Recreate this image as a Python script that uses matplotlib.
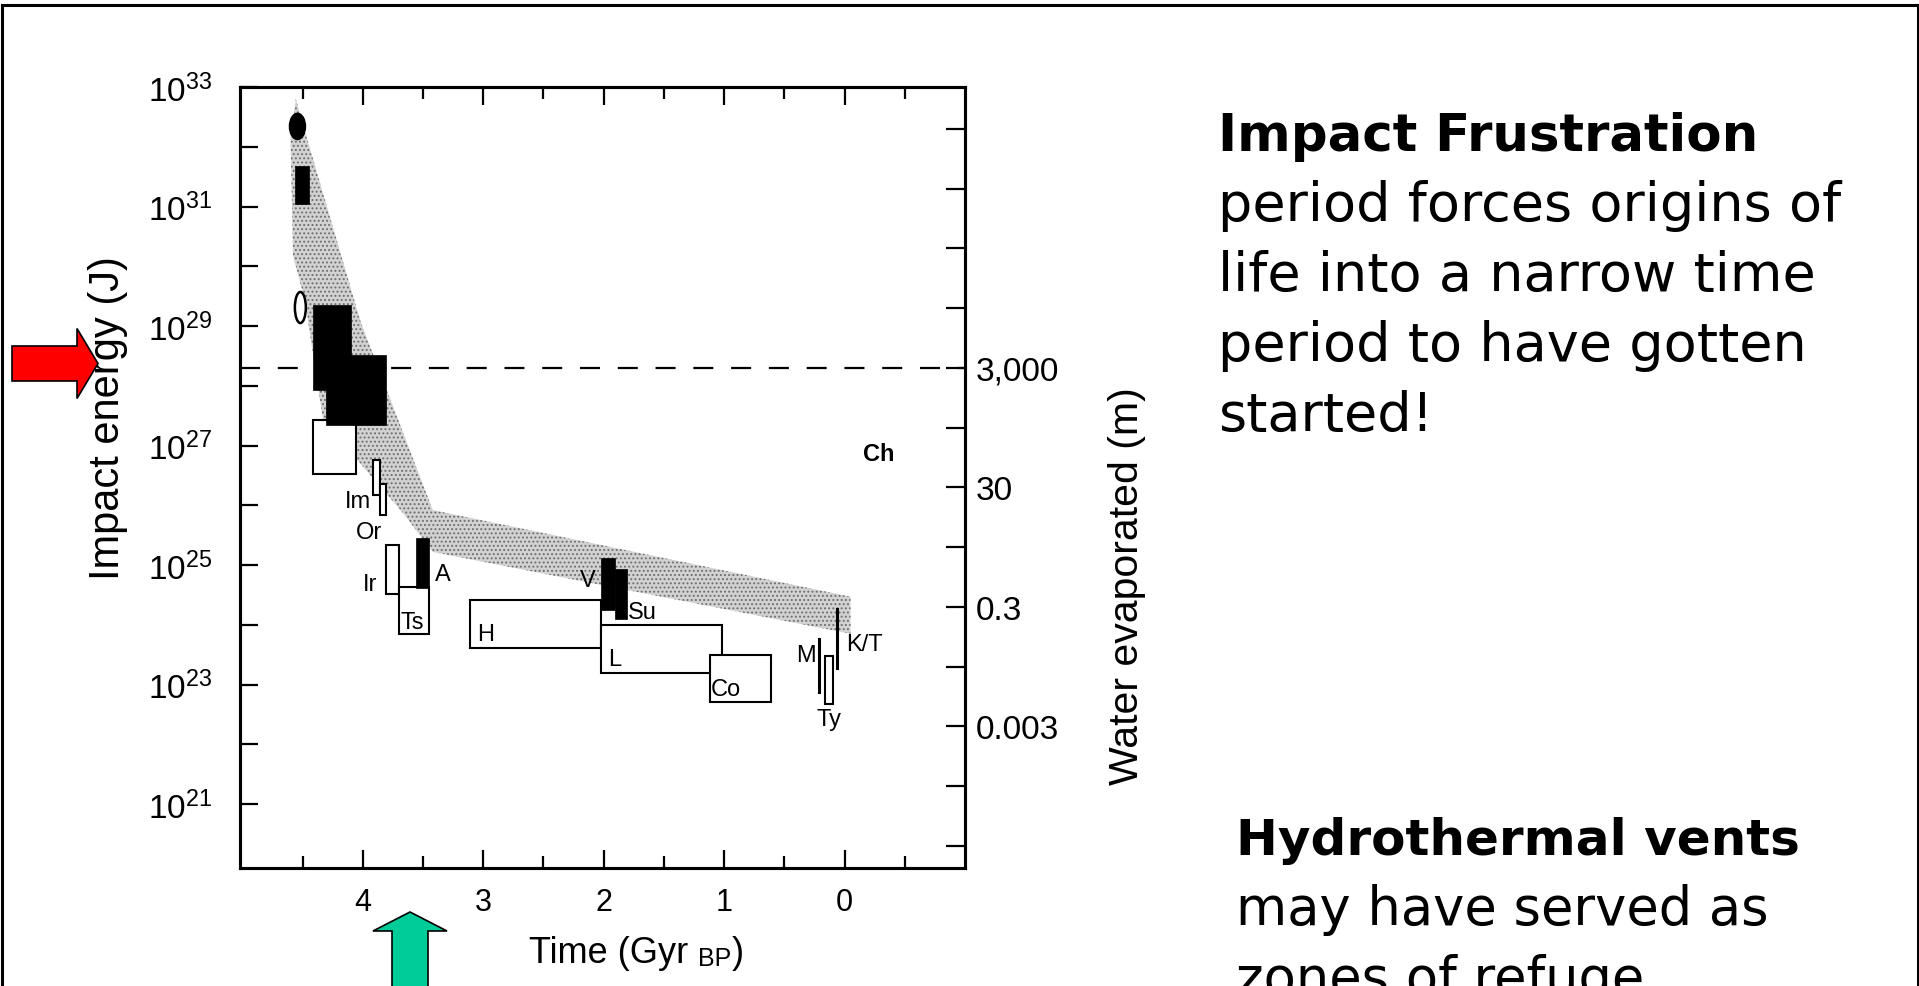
import numpy as np
import matplotlib.pyplot as plt
from matplotlib.patches import Rectangle, Ellipse, FancyArrow
from matplotlib.lines import Line2D
from matplotlib.transforms import IdentityTransform

plt.rcParams['font.family'] = ['Liberation Sans', 'DejaVu Sans']
plt.rcParams['mathtext.fontset'] = 'custom'
plt.rcParams['mathtext.rm'] = 'Liberation Sans'
plt.rcParams['hatch.linewidth'] = 0.9

# time in Gyr before present, energy as log10 of joules
band_t = [4.556, 4.48, 4.02, 3.42, -0.05, -0.05, 3.42, 3.67, 4.33, 4.48, 4.58, 4.60]
band_e = [32.80, 32.25, 29.08, 25.92, 24.47, 23.85, 25.22, 25.88, 27.42, 29.42, 30.18, 32.13]

# black boxes (t_old, t_young), (e_low, e_high)
solid_t = [(4.564, 4.448), (4.415, 4.10), (4.31, 3.81), (3.56, 3.45), (2.02, 1.91), (1.91, 1.81)]
solid_e = [(31.05, 31.67), (27.93, 29.35), (27.35, 28.52), (24.62, 25.45), (24.25, 25.12), (24.10, 24.93)]

# open boxes: big one, Im (two), Ir, Ts, H, L, Co, Ty
open_t = [(4.415, 4.06), (3.917, 3.859), (3.86, 3.81), (3.81, 3.70), (3.70, 3.45),
          (3.11, 2.02), (2.02, 1.02), (1.12, 0.61), (0.16, 0.10)]
open_e = [(26.53, 27.43), (26.17, 26.75), (25.83, 26.35), (24.52, 25.33), (23.85, 24.63),
          (23.62, 24.42), (23.20, 24.00), (22.70, 23.50), (22.68, 23.48)]

# single events drawn as bars: M, K/T
bar_t = [0.216, 0.06]
bar_e = [(22.88, 23.77), (23.27, 24.27)]

# the two oldest estimates drawn as ovals
oval_t = [4.543, 4.519]
oval_e = [32.34, 29.31]
oval_filled = [True, False]

labels = ['Im', 'Or', 'Ir', 'A', 'Ts', 'H', 'V', 'Su', 'L', 'Co', 'M', 'Ty', 'K/T', 'Ch']
label_t = [3.93, 3.95, 3.88, 3.40, 3.69, 3.05, 2.07, 1.80, 1.96, 1.11, 0.24, 0.13, -0.01, -0.28]
label_e = [26.08, 25.55, 24.68, 24.85, 24.05, 23.85, 24.75, 24.22, 23.42, 22.92, 23.50, 22.43, 23.68, 26.87]

dash_level = 28.3          # energy that boils off the ocean (3,000 m)
time_ticks = [4, 3, 2, 1, 0]
time_minor = [4.5, 3.5, 2.5, 1.5, 0.5, -0.5]
energy_ticks = [21, 23, 25, 27, 29, 31, 33]
energy_minor = [22, 24, 26, 28, 30, 32]
water_ticks = [3000, 30, 0.3, 0.003]
water_labels = ['3,000', '30', '0.3', '0.003']
water_minor = [3e-5, 3e-4, 3e-2, 3, 300, 3e4, 3e5, 3e6, 3e7]

fig = plt.figure(figsize=(19.19, 9.87), dpi=100)
ax = fig.add_axes([0.12507, 0.11955, 0.3778, 0.79129])

ax.fill(band_t, band_e, facecolor='#d2d2d2', edgecolor='#6e6e6e', hatch='....',
        linewidth=0, zorder=1)
ax.axhline(dash_level, color='black', lw=1.6, dashes=(9, 8), zorder=2)

for (t0, t1), (e0, e1) in zip(open_t, open_e):
    ax.add_patch(Rectangle((min(t0, t1), e0), abs(t0 - t1), e1 - e0,
                           facecolor='white', edgecolor='black', lw=1.5, zorder=3))
for (t0, t1), (e0, e1) in zip(solid_t, solid_e):
    ax.add_patch(Rectangle((min(t0, t1), e0), abs(t0 - t1), e1 - e0,
                           facecolor='black', edgecolor='black', lw=0.5, zorder=4))
for t, (e0, e1) in zip(bar_t, bar_e):
    ax.plot([t, t], [e0, e1], color='black', lw=2.2, zorder=4)

oval_w = [0.124, 0.091]
oval_h = [0.42, 0.52]
for t, e, w, h, f in zip(oval_t, oval_e, oval_w, oval_h, oval_filled):
    ax.add_patch(Ellipse((t, e), w, h, facecolor='black' if f else 'white',
                         edgecolor='black', lw=1.8, zorder=4))

align = {'Im': 'right', 'Ir': 'right', 'V': 'right', 'M': 'right',
         'Or': 'center', 'Ty': 'center', 'Ch': 'center'}
for name, t, e in zip(labels, label_t, label_e):
    ax.text(t, e, name, ha=align.get(name, 'left'), va='center', fontsize=17,
            fontweight='bold' if name == 'Ch' else 'normal', zorder=5)

ax.set_xlim(5.02, -1.0)
ax.set_ylim(19.93, 33.0)
ax.set_xticks(time_ticks, labels=[str(t) for t in time_ticks])
ax.set_xticks(time_minor, minor=True)
ax.set_yticks(energy_ticks, labels=[r'$\mathregular{10^{%d}}$' % n for n in energy_ticks])
ax.set_yticks(energy_minor, minor=True)
ax.tick_params(axis='x', which='both', direction='in', top=True, bottom=True,
               width=1.6, labelsize=22, pad=14)
ax.tick_params(axis='x', which='major', length=13)
ax.tick_params(axis='x', which='minor', length=8.5)
ax.tick_params(axis='y', which='both', direction='in', left=True, right=False,
               length=13, width=1.6, labelsize=24, pad=20)
for s in ax.spines.values():
    s.set_linewidth(2.2)

# right axis: depth of ocean evaporated, 3,000 m at the dashed line
w0 = np.log10(3000) - dash_level
ax2 = ax.twinx()
ax2.set_ylim(ax.get_ylim()[0] + w0, ax.get_ylim()[1] + w0)
ax2.set_yticks(np.log10(water_ticks), labels=water_labels)
ax2.set_yticks(np.log10(water_minor), minor=True)
ax2.tick_params(axis='y', which='both', direction='in', length=14, width=1.6,
                labelsize=24, pad=8)
for s in ax2.spines.values():
    s.set_linewidth(2.2)
ax2.set_ylabel('Water evaporated (m)', fontsize=29.5)
ax2.yaxis.set_label_coords(1.197, 0.362)

ax.set_ylabel('Impact energy (J)', fontsize=30)
ax.yaxis.set_label_coords(-0.155, 0.578)

t1 = ax.text(0.3986, -0.1204, 'Time (Gyr ', transform=ax.transAxes, ha='left',
             va='baseline', fontsize=26)
t2 = ax.annotate('BP', xy=(1, 0), xycoords=t1, ha='left', va='bottom', fontsize=18)
ax.annotate(')', xy=(1, 0), xycoords=t2, ha='left', va='bottom', fontsize=26)

# slide text
px = IdentityTransform()
H = 987
title1 = 'Impact Frustration'
body1 = ['period forces origins of', 'life into a narrow time',
         'period to have gotten', 'started!']
title2 = 'Hydrothermal vents'
body2 = ['may have served as', 'zones of refuge']

fig.text(1218, H - 151, title1, transform=px, fontsize=37, fontweight='bold',
         family='DejaVu Sans', va='baseline')
for i, line in enumerate(body1):
    fig.text(1218, H - 151 - 70 * (i + 1), line, transform=px, fontsize=39,
             family='DejaVu Sans', va='baseline')
fig.text(1236, H - 855, title2, transform=px, fontsize=36, fontweight='bold',
         family='DejaVu Sans', va='baseline')
for i, line in enumerate(body2):
    fig.text(1236, H - 855 - 70 * (i + 1), line, transform=px, fontsize=38,
             family='DejaVu Sans', va='baseline')

# arrows
fig.add_artist(FancyArrow(12, H - 364.5, 86, 0, width=35, head_width=70, head_length=21,
                          length_includes_head=True, transform=px,
                          facecolor='#ff0000', edgecolor='black', lw=1.2))
fig.add_artist(FancyArrow(410, -10, 0, 84, width=36, head_width=74, head_length=19,
                          length_includes_head=True, transform=px,
                          facecolor='#00cc99', edgecolor='black', lw=1.2))

# slide frame
for xs, ys in [([1.5, 1.5], [-5, H - 6]), ([1.5, 1917.5], [H - 6, H - 6]),
               ([1917.5, 1917.5], [H - 6, -5])]:
    fig.add_artist(Line2D(xs, ys, transform=px, color='black', lw=2.2))

fig.savefig('out.png', dpi=100)
